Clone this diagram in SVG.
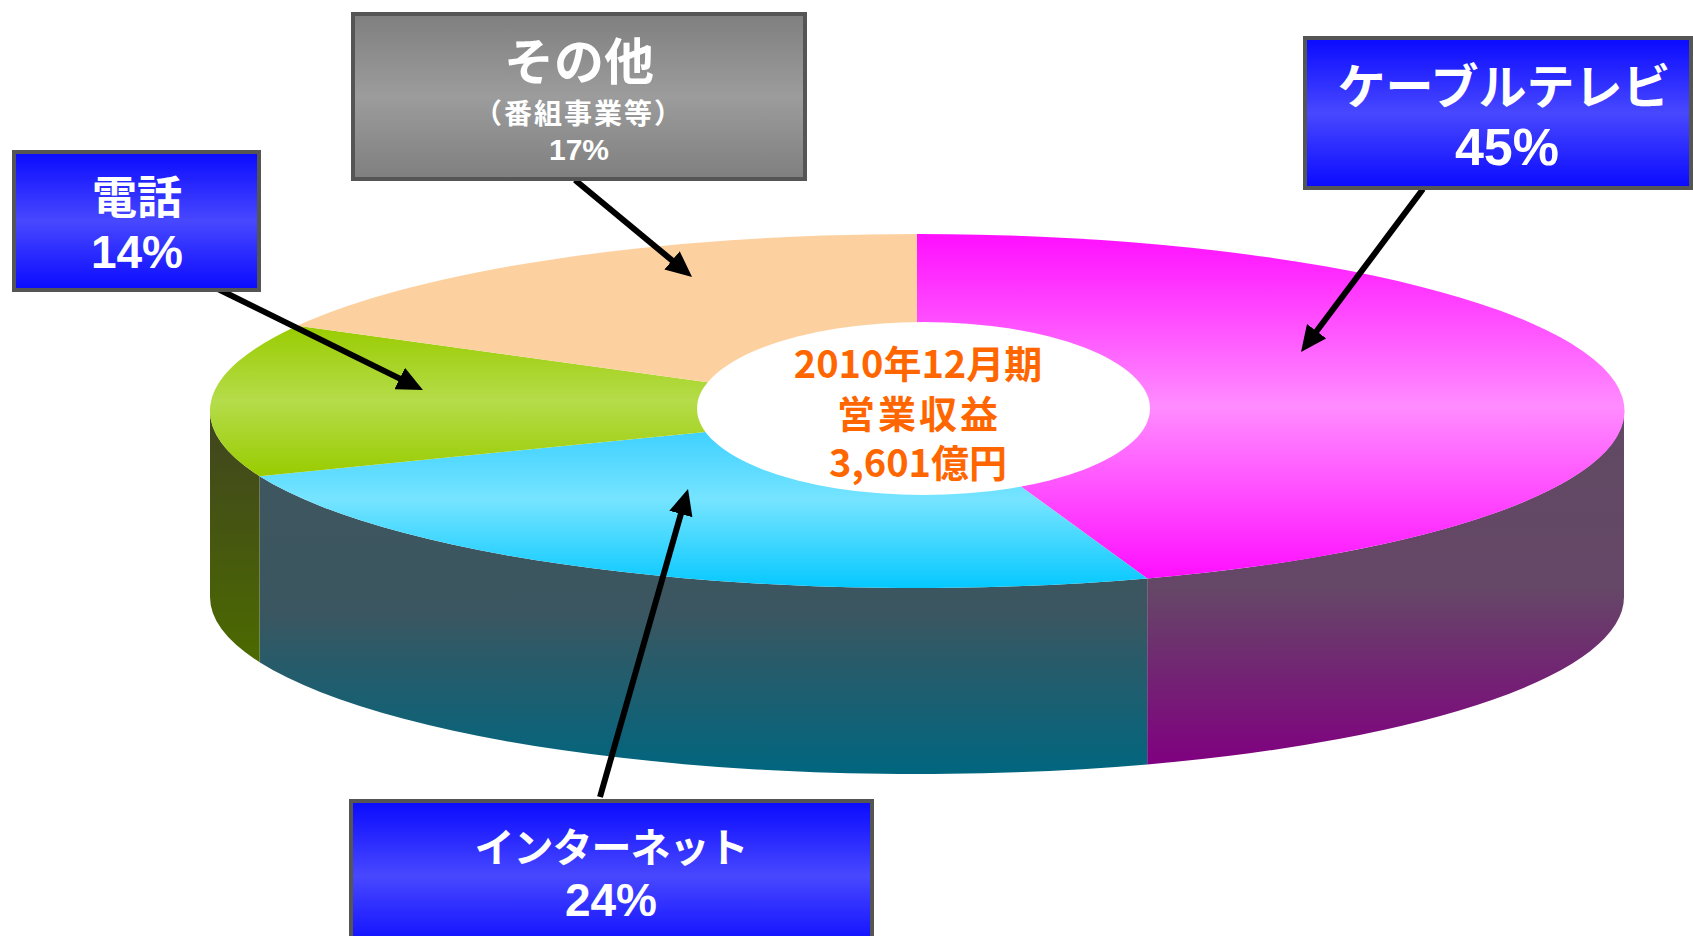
<svg xmlns="http://www.w3.org/2000/svg" width="1693" height="936" viewBox="0 0 1693 936">
<style>
.box{stroke:#555555;stroke-width:4}
.jp{font-family:"Noto Sans CJK JP","Noto Sans CJK SC",sans-serif;font-weight:bold;fill:#ffffff;text-anchor:middle}
.num{font-family:"Liberation Sans",Arial,sans-serif;font-weight:bold;fill:#ffffff;text-anchor:middle}
.ctr{font-family:"Noto Sans CJK JP","Noto Sans CJK SC",sans-serif;font-weight:bold;fill:#ff6600;text-anchor:middle;font-size:38px}
.arrow{stroke:#000000;stroke-width:6;fill:none;marker-end:url(#head)}
</style>
<defs>
<linearGradient id="gBlue" x1="0" y1="0" x2="0" y2="1">
<stop offset="0" stop-color="#0a0aff"/><stop offset="0.5" stop-color="#4848ff"/><stop offset="1" stop-color="#0a0aff"/>
</linearGradient>
<linearGradient id="gGray" x1="0" y1="0" x2="0" y2="1">
<stop offset="0" stop-color="#7f7f7f"/><stop offset="0.5" stop-color="#9c9c9c"/><stop offset="1" stop-color="#7f7f7f"/>
</linearGradient>
<linearGradient id="gMag" x1="0" y1="0" x2="0" y2="1">
<stop offset="0" stop-color="#ff0fff"/><stop offset="0.5" stop-color="#ff8cff"/><stop offset="1" stop-color="#ff0fff"/>
</linearGradient>
<linearGradient id="gCyan" x1="0" y1="0" x2="0" y2="1">
<stop offset="0" stop-color="#2ecbff"/><stop offset="0.5" stop-color="#76e4ff"/><stop offset="1" stop-color="#05c8ff"/>
</linearGradient>
<linearGradient id="gGreen" x1="0" y1="0" x2="0" y2="1">
<stop offset="0" stop-color="#99cc00"/><stop offset="0.5" stop-color="#b5dc4a"/><stop offset="1" stop-color="#99cc00"/>
</linearGradient>
<linearGradient id="gMagWall" x1="0" y1="0" x2="0" y2="1">
<stop offset="0" stop-color="#604a62"/><stop offset="0.5" stop-color="#654767"/><stop offset="1" stop-color="#800080"/>
</linearGradient>
<linearGradient id="gCyanWall" x1="0" y1="0" x2="0" y2="1">
<stop offset="0" stop-color="#3e5660"/><stop offset="0.45" stop-color="#3b5660"/><stop offset="1" stop-color="#00667f"/>
</linearGradient>
<linearGradient id="gGreenWall" x1="0" y1="0" x2="0" y2="1">
<stop offset="0" stop-color="#404420"/><stop offset="1" stop-color="#4c6a00"/>
</linearGradient>
<marker id="head" markerUnits="userSpaceOnUse" markerWidth="26" markerHeight="24" refX="11" refY="12" orient="auto">
<path d="M0,0 L26,12 L0,24 Z" fill="#000000"/>
</marker>
</defs>

<g id="pie">
<path d="M1624,411 A707,177 0 0,1 1147.2,578.4 L1147.2,764.4 A707,177 0 0,0 1624,597 Z" fill="url(#gMagWall)"/>
<path d="M1147.2,578.4 A707,177 0 0,1 259.6,476.2 L259.6,662.2 A707,177 0 0,0 1147.2,764.4 Z" fill="url(#gCyanWall)"/>
<path d="M259.6,476.2 A707,177 0 0,1 210,411 L210,597 A707,177 0 0,0 259.6,662.2 Z" fill="url(#gGreenWall)"/>
<path d="M917,411 L917,234 A707,177 0 0,1 1147.2,578.4 Z" fill="url(#gMag)"/>
<path d="M917,411 L1147.2,578.4 A707,177 0 0,1 259.6,476.2 Z" fill="url(#gCyan)"/>
<path d="M917,411 L259.6,476.2 A707,177 0 0,1 297.5,325.7 Z" fill="url(#gGreen)"/>
<path d="M917,411 L297.5,325.7 A707,177 0 0,1 917,234 Z" fill="#fdd0a0"/>
</g>

<g id="center-label">
<ellipse cx="923.5" cy="408.5" rx="226.5" ry="86.5" fill="#ffffff"/>
<text class="ctr" x="918" y="378">2010年12月期</text>
<text class="ctr" x="919" y="428" letter-spacing="3">営業収益</text>
<text class="ctr" x="918" y="477">3,601億円</text>
</g>

<g id="connectors">
<line class="arrow" x1="218" y1="289" x2="409.5" y2="383.4"/>
<line class="arrow" x1="575" y1="180" x2="680.5" y2="267.4"/>
<line class="arrow" x1="1423" y1="189" x2="1310" y2="340"/>
<line class="arrow" x1="600" y1="797" x2="683.9" y2="503.4"/>
</g>

<g id="label-phone">
<rect class="box" x="14" y="152" width="245" height="138" fill="url(#gBlue)"/>
<text class="jp" x="137" y="214" font-size="45">電話</text>
<text class="num" x="137" y="268" font-size="46">14%</text>
</g>

<g id="label-other">
<rect class="box" x="353" y="14" width="452" height="165" fill="url(#gGray)"/>
<text class="jp" x="579" y="80" font-size="50">その他</text>
<text class="jp" x="579" y="124" font-size="28" letter-spacing="2">（番組事業等）</text>
<text class="num" x="579" y="160" font-size="30">17%</text>
</g>

<g id="label-cable">
<rect class="box" x="1305" y="38" width="386" height="150" fill="url(#gBlue)"/>
<text class="jp" x="1504" y="104" font-size="48">ケーブルテレビ</text>
<text class="num" x="1507" y="165" font-size="52">45%</text>
</g>

<g id="label-internet">
<rect class="box" x="351" y="801" width="521" height="150" fill="url(#gBlue)"/>
<text class="jp" x="611" y="862" font-size="40" letter-spacing="-1">インターネット</text>
<text class="num" x="611" y="916" font-size="46">24%</text>
</g>
</svg>
